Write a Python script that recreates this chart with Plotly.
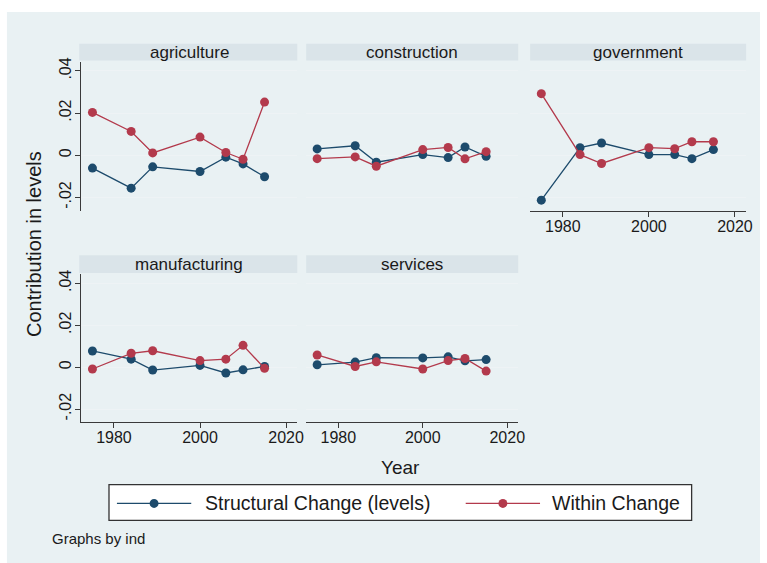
import plotly.graph_objects as go

# ---- data -------------------------------------------------------------
years = [1975, 1984, 1989, 2000, 2006, 2010, 2015]
industries = ["agriculture", "construction", "government", "manufacturing", "services"]

structural = {
    "agriculture":   [-0.0061, -0.0156, -0.0055, -0.0077, -0.0009, -0.0041, -0.0102],
    "construction":  [0.0030, 0.0045, -0.0033, 0.0003, -0.0011, 0.0039, -0.0005],
    "government":    [-0.0213, 0.0036, 0.0058, 0.0003, 0.0003, -0.0016, 0.0027],
    "manufacturing": [0.0077, 0.0038, -0.0014, 0.0008, -0.0028, -0.0013, 0.0003],
    "services":      [0.0011, 0.0024, 0.0045, 0.0044, 0.0049, 0.0030, 0.0036],
}
within = {
    "agriculture":   [0.0203, 0.0113, 0.0011, 0.0086, 0.0013, -0.0019, 0.0252],
    "construction":  [-0.0016, -0.0008, -0.0052, 0.0027, 0.0037, -0.0017, 0.0017],
    "government":    [0.0292, 0.0003, -0.0039, 0.0036, 0.0031, 0.0064, 0.0064],
    "manufacturing": [-0.0009, 0.0066, 0.0078, 0.0031, 0.0038, 0.0104, -0.0006],
    "services":      [0.0058, 0.0003, 0.0025, -0.0009, 0.0031, 0.0041, -0.0019],
}

y_tickvals = [-0.02, 0, 0.02, 0.04]
y_ticktext = ["-.02", "0", ".02", ".04"]
x_tickvals = [1980, 2000, 2020]
series_names = ["Structural Change (levels)", "Within Change"]

# ---- styling ----------------------------------------------------------
W, H = 767, 563
FONT = "Liberation Sans, Arial, Helvetica, sans-serif"
BLUE = "#1d4b6c"
RED = "#b33a4c"
BG = "#e9f1f3"
STRIP = "#dae4e9"
AXIS = "#3a3a3a"
TEXT = "#1a1a1a"


def fx(px):
    return px / W


def fy(py):
    return 1 - py / H


# panel geometry in pixels: (x0, x1) per column, (y0, y1) per row
cols = [(82, 300), (309, 523), (535, 753)]
rows = [(58, 208), (272, 421)]
positions = {
    "agriculture": (0, 0),
    "construction": (0, 1),
    "government": (0, 2),
    "manufacturing": (1, 0),
    "services": (1, 1),
}
show_x = {"government", "manufacturing", "services"}
show_y = {"agriculture", "manufacturing"}

fig = go.Figure()
layout = dict(
    width=W, height=H,
    margin=dict(l=0, r=0, t=0, b=0),
    paper_bgcolor="white",
    plot_bgcolor="white",
    showlegend=False,
    font=dict(family=FONT, color=TEXT),
)
shapes = [
    dict(type="rect", xref="paper", yref="paper",
         x0=fx(7), x1=1, y0=0, y1=fy(8),
         fillcolor=BG, line=dict(width=0), layer="below"),
]
annotations = []

for i, ind in enumerate(industries):
    r, c = positions[ind]
    x0, x1 = cols[c]
    y0, y1 = rows[r]
    n = i + 1
    xa = "x" if n == 1 else f"x{n}"
    ya = "y" if n == 1 else f"y{n}"

    fig.add_trace(go.Scatter(
        x=years, y=structural[ind], xaxis=xa, yaxis=ya,
        mode="lines+markers", name=series_names[0],
        line=dict(color=BLUE, width=1.3),
        marker=dict(color=BLUE, size=9),
    ))
    fig.add_trace(go.Scatter(
        x=years, y=within[ind], xaxis=xa, yaxis=ya,
        mode="lines+markers", name=series_names[1],
        line=dict(color=RED, width=1.3),
        marker=dict(color=RED, size=9),
    ))

    layout[f"xaxis{'' if n == 1 else n}"] = dict(
        domain=[fx(x0), fx(x1)], anchor=ya,
        range=[1972.4, 2022.6],
        showgrid=False, zeroline=False,
        showline=ind in show_x, linecolor=AXIS, linewidth=1.2,
        ticks="outside" if ind in show_x else "",
        ticklen=5, tickcolor=AXIS,
        tickvals=x_tickvals, showticklabels=ind in show_x,
        ticklabelstandoff=-4,
        tickfont=dict(size=16, color=TEXT, family=FONT),
    )
    layout[f"yaxis{'' if n == 1 else n}"] = dict(
        domain=[fy(y1), fy(y0)], anchor=xa,
        range=[-0.0262, 0.0444],
        showgrid=True, gridcolor="#eef3f5", gridwidth=1,
        zeroline=False,
        showline=ind in show_y, linecolor=AXIS, linewidth=1.2,
        ticks="outside" if ind in show_y else "",
        ticklen=5, tickcolor=AXIS,
        tickvals=y_tickvals, ticktext=y_ticktext,
        showticklabels=ind in show_y, tickangle=-90,
        ticklabelstandoff=-2,
        tickfont=dict(size=16, color=TEXT, family=FONT),
    )

    # panel heading strip
    sy0, sy1 = (40, 57) if r == 0 else (253, 271)
    shapes.append(dict(type="rect", xref="paper", yref="paper",
                       x0=fx(x0 - 2 if c == 0 else x0), x1=fx(x1),
                       y0=fy(sy1), y1=fy(sy0),
                       fillcolor=STRIP, line=dict(width=0), layer="below"))
    annotations.append(dict(
        text=ind, xref="paper", yref="paper",
        x=fx((x0 + x1) / 2), y=fy((sy0 + sy1) / 2),
        xanchor="center", yanchor="middle", showarrow=False,
        font=dict(size=17, color=TEXT, family=FONT),
    ))

# axis titles
annotations.append(dict(text="Year", xref="paper", yref="paper",
                        x=fx(404), y=fy(467), xanchor="center", yanchor="middle",
                        showarrow=False, font=dict(size=19, color=TEXT, family=FONT)))
annotations.append(dict(text="Contribution in levels", xref="paper", yref="paper",
                        x=fx(35), y=fy(242), xanchor="center", yanchor="middle",
                        textangle=-90, showarrow=False,
                        font=dict(size=20, color=TEXT, family=FONT)))

# legend box
shapes.append(dict(type="rect", xref="paper", yref="paper",
                   x0=fx(110), x1=fx(698), y0=fy(520), y1=fy(484),
                   fillcolor="white", line=dict(color="#333333", width=1.3)))
legend_items = [
    (series_names[0], BLUE, 118, 193, 205),
    (series_names[1], RED, 470, 545, 555),
]
ly = 503
for label, color, lx0, lx1, tx in legend_items:
    shapes.append(dict(type="line", xref="paper", yref="paper",
                       x0=fx(lx0), x1=fx(lx1), y0=fy(ly), y1=fy(ly),
                       line=dict(color=color, width=1.3)))
    cx = (lx0 + lx1) / 2
    rad = 4.5
    shapes.append(dict(type="circle", xref="paper", yref="paper",
                       x0=fx(cx - rad), x1=fx(cx + rad),
                       y0=fy(ly + rad), y1=fy(ly - rad),
                       fillcolor=color, line=dict(color=color, width=0)))
    annotations.append(dict(text=label, xref="paper", yref="paper",
                            x=fx(tx), y=fy(ly), xanchor="left", yanchor="middle",
                            showarrow=False,
                            font=dict(size=19.5, color=TEXT, family=FONT)))

annotations.append(dict(text="Graphs by ind", xref="paper", yref="paper",
                        x=fx(50), y=fy(538), xanchor="left", yanchor="middle",
                        showarrow=False, font=dict(size=15, color=TEXT, family=FONT)))

layout["shapes"] = shapes
layout["annotations"] = annotations
fig.update_layout(**layout)

fig.write_html("out.html")
